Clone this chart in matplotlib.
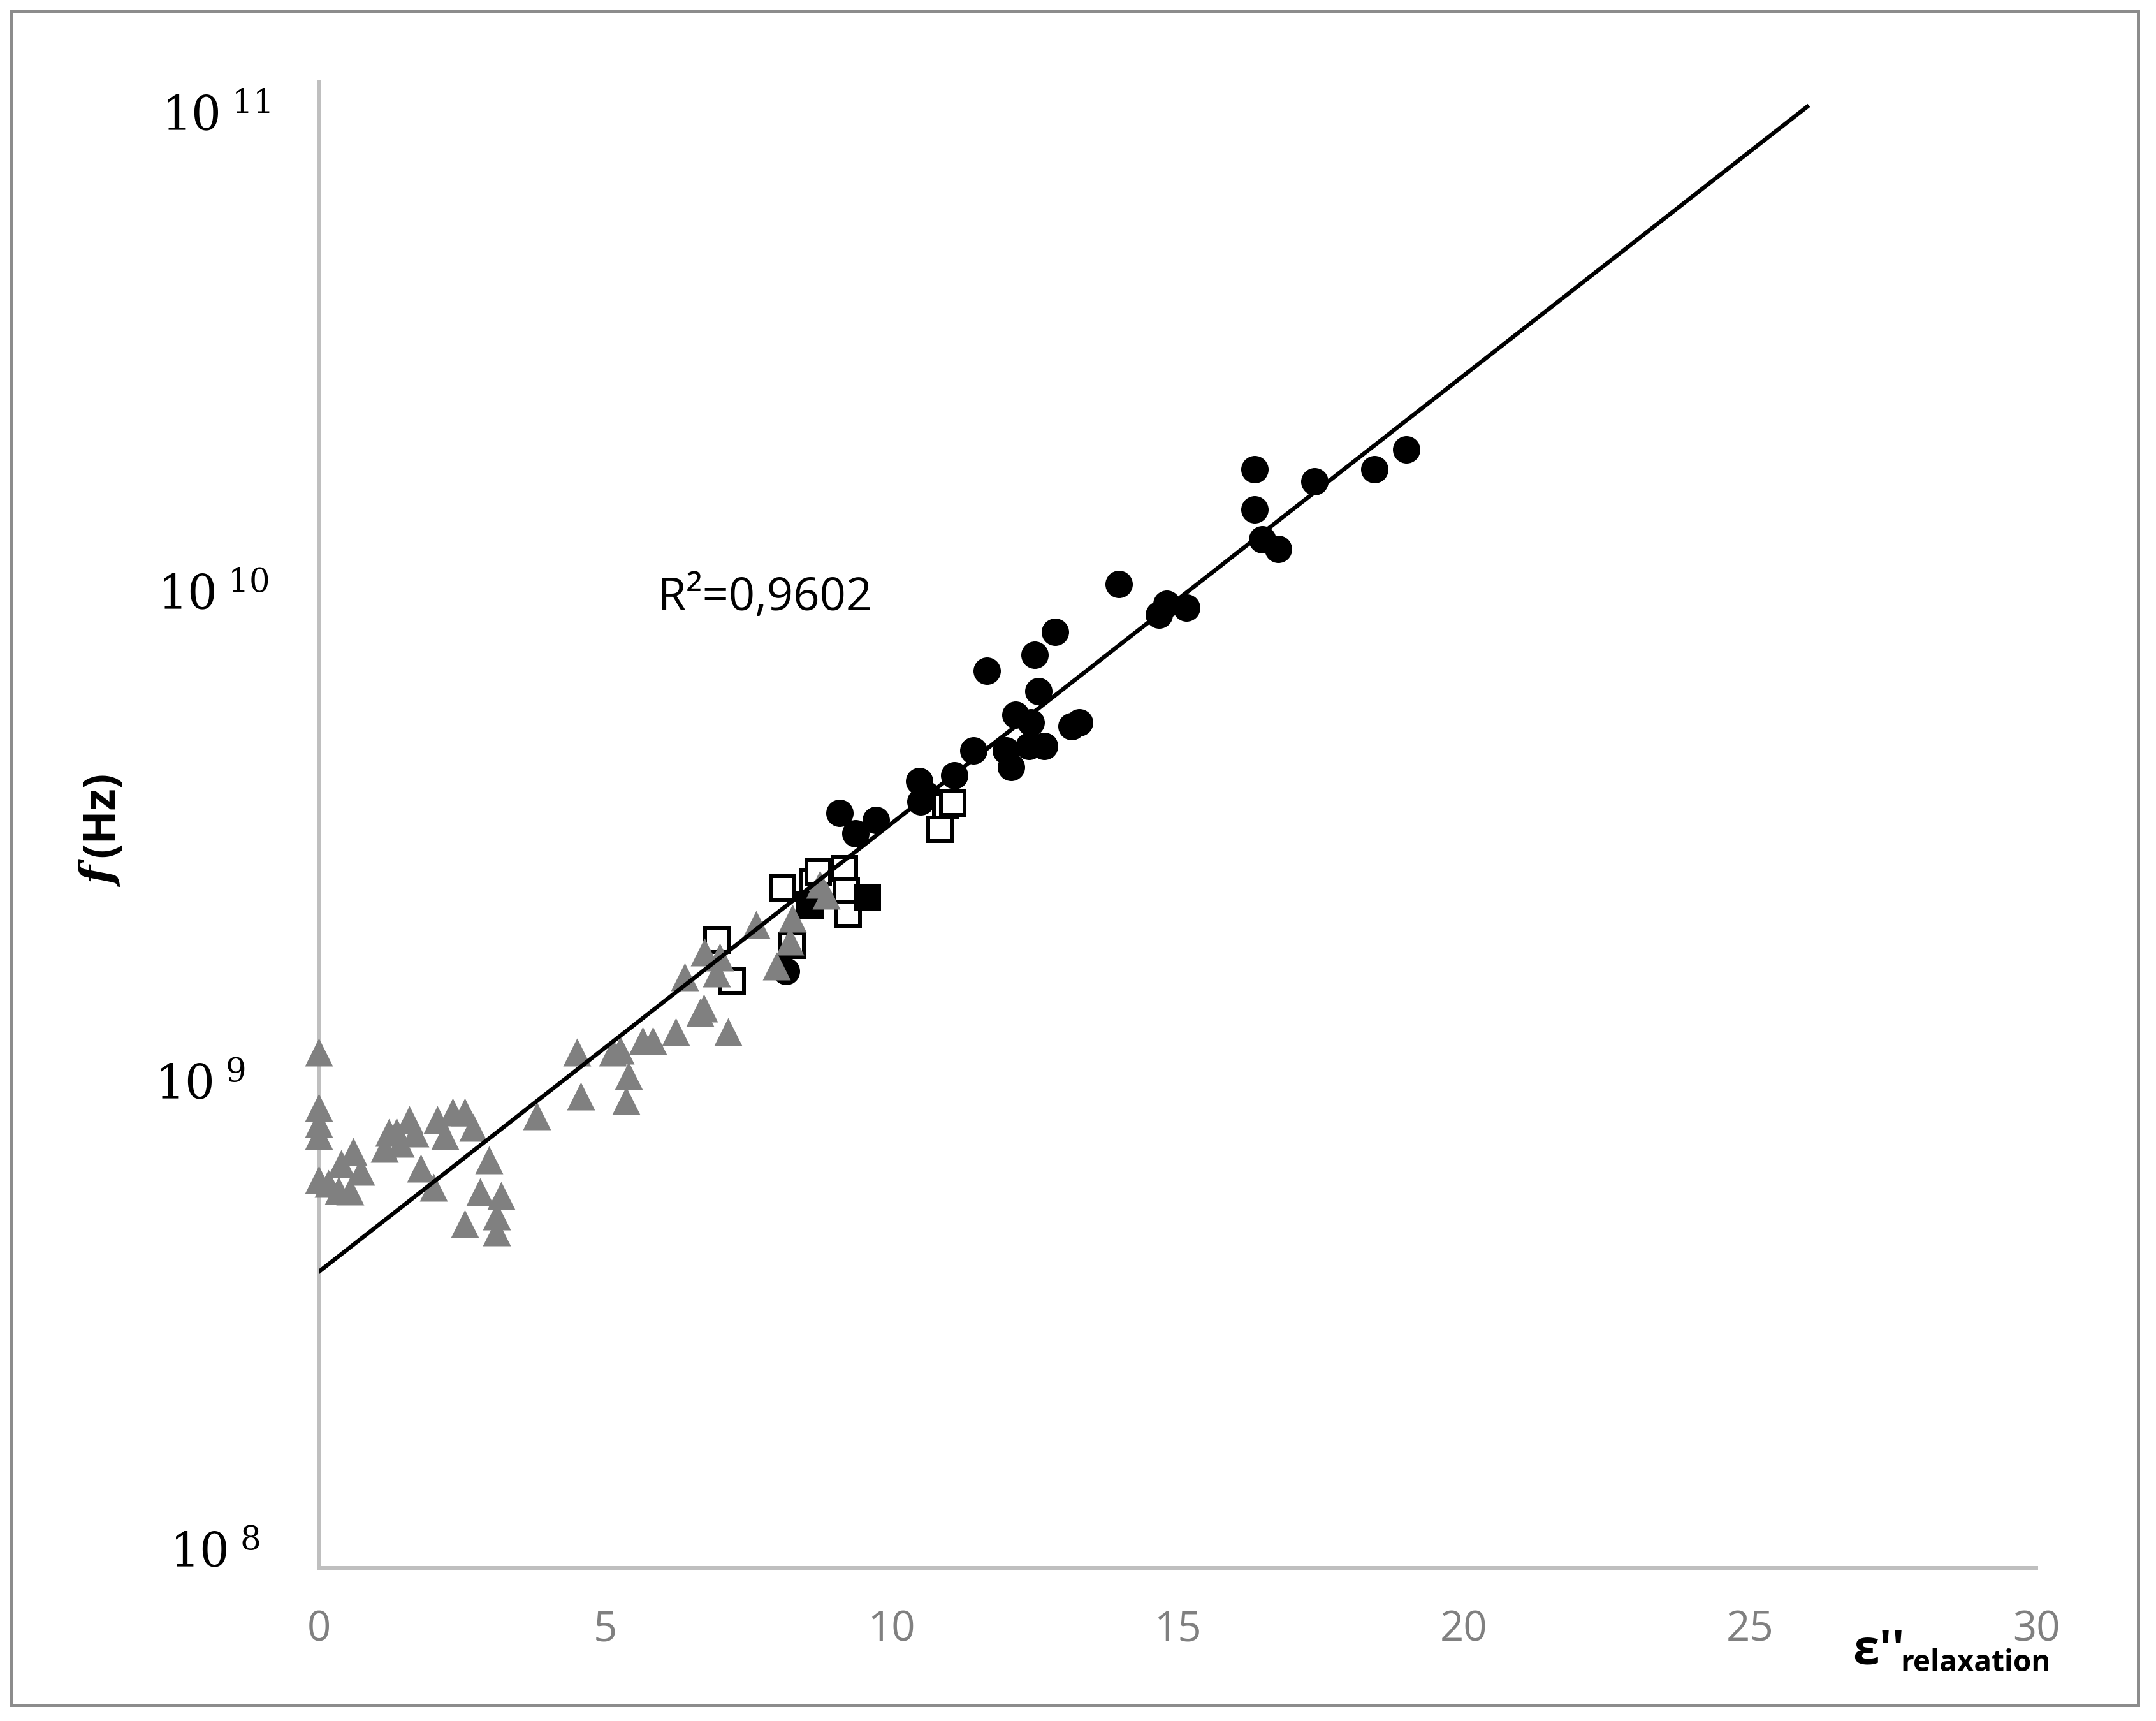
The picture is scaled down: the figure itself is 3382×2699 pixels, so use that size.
import matplotlib

matplotlib.use("Agg")
import matplotlib.pyplot as plt
from matplotlib.patches import Rectangle
from matplotlib.ticker import NullLocator

# values (x = eps'' relaxation, f in Hz)
tri_x = [0.0, 0.0, 0.0, 0.0, 0.0, 0.60, 0.39, 0.74, 0.17, 0.35, 0.55,
         1.15, 1.42, 1.23, 1.36, 1.58, 1.68, 2.07, 2.21, 2.34, 2.55, 2.69,
         1.78, 2.00, 2.97, 2.82, 3.18, 3.11, 2.55, 3.11, 3.81,
         4.51, 4.58, 5.13, 5.27, 5.41, 5.37, 5.66, 5.83, 6.24, 6.73, 6.66,
         7.15, 6.39, 6.74, 7.01, 6.95, 7.64, 8.27, 8.23, 7.99, 8.75, 8.86]
tri_f = [1.10e9, 8.49e8, 7.89e8, 7.46e8, 6.08e8, 6.92e8, 6.55e8, 6.32e8, 5.97e8, 5.78e8, 5.77e8,
         7.03e8, 7.19e8, 7.57e8, 7.59e8, 8.02e8, 7.55e8, 8.02e8, 7.46e8, 8.32e8, 8.32e8, 7.74e8,
         6.41e8, 5.86e8, 6.67e8, 5.75e8, 5.64e8, 5.14e8, 4.95e8, 4.76e8, 8.17e8,
         1.10e9, 8.97e8, 1.10e9, 1.11e9, 9.86e8, 8.79e8, 1.16e9, 1.16e9, 1.21e9, 1.35e9, 1.32e9,
         1.21e9, 1.56e9, 1.75e9, 1.71e9, 1.59e9, 1.99e9, 2.05e9, 1.84e9, 1.64e9, 2.40e9, 2.28e9]

circ_x = [8.16, 9.10, 9.38, 9.73, 10.49, 10.51, 10.62, 11.10, 11.44, 12.00, 12.09,
          12.41, 12.67, 12.17, 12.44, 13.15, 13.28, 12.57, 11.67, 12.51, 12.86,
          13.98, 14.68, 14.81, 15.16, 16.35, 16.35, 16.48, 16.76, 17.39, 18.44, 19.00]
circ_f = [1.60e9, 3.34e9, 3.04e9, 3.23e9, 3.87e9, 3.52e9, 3.63e9, 3.98e9, 4.47e9, 4.47e9, 4.14e9,
          4.56e9, 4.56e9, 5.27e9, 5.09e9, 5.00e9, 5.09e9, 5.89e9, 6.46e9, 6.97e9, 7.74e9,
          9.68e9, 8.39e9, 8.83e9, 8.67e9, 1.65e10, 1.37e10, 1.19e10, 1.14e10, 1.56e10, 1.65e10, 1.81e10]

sq_open_x = [6.95, 7.22, 8.26, 8.10, 8.62, 8.72, 9.18, 9.21, 9.24, 10.85, 10.95, 11.07]
sq_open_f = [1.85e9, 1.53e9, 1.81e9, 2.36e9, 2.43e9, 2.54e9, 2.58e9, 2.33e9, 2.09e9, 3.10e9, 3.46e9, 3.50e9]

sq_fill_x = [8.58, 9.58]
sq_fill_f = [2.18e9, 2.26e9]

# exponential trendline, straight on the log axis
trend_x = [0.0, 26.0]
trend_f = [3.96e8, 8.9e10]

x_ticks = [0, 5, 10, 15, 20, 25, 30]
y_ticks = [1e8, 1e9, 1e10, 1e11]
y_tick_labels = [r"$10^{\ 8}$", r"$10^{\ 9}$", r"$10^{\ 10}$", r"$10^{\ 11}$"]
r2_label = "R²=0,9602"

W, H, DPI = 3382, 2699, 100


def pt(pixels):
    return pixels * 72 / DPI


def main() -> None:
    plt.rcParams["mathtext.fontset"] = "dejavuserif"
    sans = ["Open Sans", "DejaVu Sans"]

    fig = plt.figure(figsize=(W / DPI, H / DPI), dpi=DPI)
    ax = fig.add_axes([500 / W, 1 - 2459 / H, (3194 - 500) / W, (2459 - 128) / H])
    ax.set_xlim(0, 30)
    ax.set_yscale("log")
    ax.set_ylim(1e8, 1e11)

    for side in ["top", "right"]:
        ax.spines[side].set_visible(False)
    for side in ["left", "bottom"]:
        ax.spines[side].set_color("#BFBFBF")
        ax.spines[side].set_linewidth(pt(6))

    ax.plot(circ_x, circ_f, "o", ms=pt(43), color="black", mec="none", zorder=3, clip_on=False)
    ax.plot(sq_open_x, sq_open_f, "s", ms=pt(37), mfc="white", mec="black", mew=pt(6),
            zorder=4, clip_on=False)
    ax.plot(sq_fill_x, sq_fill_f, "s", ms=pt(37), mfc="black", mec="black", mew=pt(6),
            zorder=4, clip_on=False)
    ax.plot(tri_x, tri_f, "^", ms=pt(44), color="#808080", mec="none", zorder=5, clip_on=False)
    ax.plot(trend_x, trend_f, "-", color="black", lw=pt(6.5), zorder=6)

    ax.set_xticks(x_ticks, labels=[str(v) for v in x_ticks], fontsize=47,
                  color="#808080", family=sans)
    ax.tick_params(axis="x", length=0, pad=pt(64))
    ax.set_yticks(y_ticks, labels=["" for _ in y_ticks])
    ax.yaxis.set_minor_locator(NullLocator())
    ax.tick_params(axis="y", which="both", length=0)

    # the decade labels sit slightly irregularly in the original
    nudges = [(-117, 1.5), (-134, -30), (-119, -36), (-116, -55)]
    for val, lbl, (dx, dy) in zip(y_ticks, y_tick_labels, nudges):
        ax.annotate(lbl, xy=(0, val), xycoords=("axes fraction", "data"),
                    xytext=(dx, dy), textcoords="offset points",
                    ha="center", va="baseline", fontsize=53, annotation_clip=False)

    ax.text(5.92, 8.57e9, r2_label, fontsize=52, family=sans, ha="left", va="baseline")

    # axis titles
    fig.text(2906 / W, 1 - 2609 / H, "ε''", fontsize=54, weight="bold", family=sans,
             ha="left", va="baseline")
    fig.text(2981 / W, 1 - 2621 / H, "relaxation", fontsize=33, weight="bold", family=sans,
             ha="left", va="baseline")
    fig.text(160 / W, 1 - 1277 / H, "(Hz)", fontsize=50, weight="bold", family=sans,
             rotation=90, ha="center", va="center")
    fig.text(161 / W, 1 - 1376 / H, "f", fontsize=50, weight="bold", style="italic",
             family="DejaVu Serif", rotation=90, ha="center", va="center")

    fig.patches.append(Rectangle((17 / W, 1 - 2674 / H), (3354 - 17) / W, (2674 - 17) / H,
                                 transform=fig.transFigure, fill=False,
                                 edgecolor="#8C8C8C", lw=pt(5)))

    fig.savefig("out.png", dpi=DPI)


if __name__ == "__main__":
    main()
